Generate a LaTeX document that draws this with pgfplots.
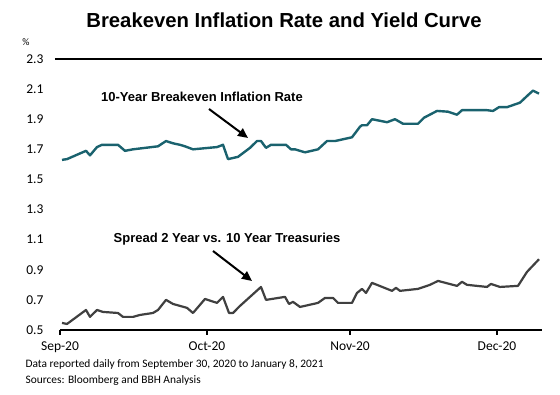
\documentclass[border=0pt]{standalone}
\usepackage{pgfplots}
\pgfplotsset{compat=1.18}
\usetikzlibrary{arrows.meta}
\usepackage{fontspec}
\setmainfont{Carlito}
\newfontfamily\hel{Liberation Sans}
\definecolor{teal1}{RGB}{26,98,110}
\definecolor{gray1}{RGB}{64,64,64}
\begin{document}
\begin{tikzpicture}[x=1pt,y=1pt]
\useasboundingbox (0,0) rectangle (560,395);
\node[font=\hel\bfseries\fontsize{20.3}{22}\selectfont] at (284,375) {Breakeven Inflation Rate and Yield Curve};
\node[font=\fontsize{10}{12}\selectfont] at (26,353) {\%};
\begin{axis}[
  at={(60pt,65pt)}, anchor=south west, scale only axis,
  width=482pt, height=271pt,
  xmin=60, xmax=542, ymin=0.5, ymax=2.3, clip=false,
  axis line style={draw=none},
  xtick={60,207,350,497}, xticklabels={Sep-20,Oct-20,Nov-20,Dec-20},
  ytick={0.5,0.7,0.9,1.1,1.3,1.5,1.7,1.9,2.1,2.3},
  tick pos=left, tick align=outside,
  xtick style={black, line width=1.8pt},
  ytick style={draw=none},
  major tick length=5pt,
  tick label style={font=\fontsize{13.5}{15}\selectfont},
  /pgf/number format/assume math mode=true,
  /pgf/number format/fixed, /pgf/number format/fixed zerofill, /pgf/number format/precision=1,
  yticklabel style={anchor=east, xshift=-8pt},
  xticklabel style={yshift=-3pt},
]
\draw[line width=2pt, black] (axis cs:55,2.3) -- (axis cs:542,2.3);
\draw[line width=2pt, black] (axis cs:60,0.5) -- (axis cs:542,0.5);
\addplot[teal1, line width=2.4pt, line join=round] coordinates {
(62,1.63) (67,1.635) (86,1.69) (90,1.66) (97,1.715) (102,1.73) (118,1.73) (125,1.69)
(133,1.70) (158,1.72) (166,1.755) (173,1.74) (180,1.73) (185,1.72) (193,1.70)
(217,1.715) (223,1.73) (228,1.635) (238,1.65) (250,1.71) (257,1.755) (261,1.755)
(266,1.71) (271,1.73) (286,1.73) (291,1.70) (295,1.70) (305,1.68) (318,1.70)
(327,1.755) (335,1.755) (352,1.78) (360,1.85) (362,1.86) (367,1.86) (372,1.90)
(387,1.88) (395,1.90) (403,1.87) (418,1.87) (424,1.91) (437,1.955) (448,1.95)
(457,1.93) (462,1.96) (487,1.96) (493,1.955) (499,1.98) (507,1.98) (520,2.01)
(528,2.06) (533,2.09) (539,2.07)
};
\addplot[gray1, line width=2.2pt, line join=round] coordinates {
(62,0.547) (67,0.54) (86,0.633) (90,0.587) (97,0.633) (103,0.62) (118,0.613)
(123,0.587) (133,0.587) (140,0.60) (153,0.613) (158,0.633) (166,0.70) (173,0.673)
(180,0.66) (187,0.647) (193,0.613) (205,0.706) (217,0.68) (223,0.72) (229,0.613)
(233,0.613) (240,0.66) (261,0.786) (266,0.70) (285,0.72) (289,0.673) (293,0.687)
(300,0.653) (318,0.68) (325,0.713) (333,0.713) (338,0.68) (352,0.68) (357,0.746)
(362,0.773) (366,0.746) (372,0.813) (392,0.76) (396,0.78) (400,0.76) (418,0.773)
(430,0.80) (438,0.826) (457,0.793) (462,0.82) (467,0.80) (487,0.786) (491,0.806)
(500,0.786) (518,0.793) (527,0.886) (539,0.97)
};
\end{axis}
\node[font=\hel\bfseries\fontsize{13}{15}\selectfont] at (202,298) {10-Year Breakeven Inflation Rate};
\draw[line width=2pt, -{Triangle[length=10pt,width=9pt]}] (209,286) -- (248,257);
\node[font=\hel\bfseries\fontsize{13}{15}\selectfont] at (227,156) {Spread 2 Year vs. 10 Year Treasuries};
\draw[line width=2pt, -{Triangle[length=10pt,width=9pt]}] (213,144) -- (252,114);
\node[anchor=base west, font=\fontsize{11.4}{13}\selectfont] at (22,27) {Data reported daily from September 30, 2020 to January 8, 2021};
\node[anchor=base west, font=\fontsize{11.4}{13}\selectfont] at (22,11) {Sources: Bloomberg and BBH Analysis};
\end{tikzpicture}
\end{document}
